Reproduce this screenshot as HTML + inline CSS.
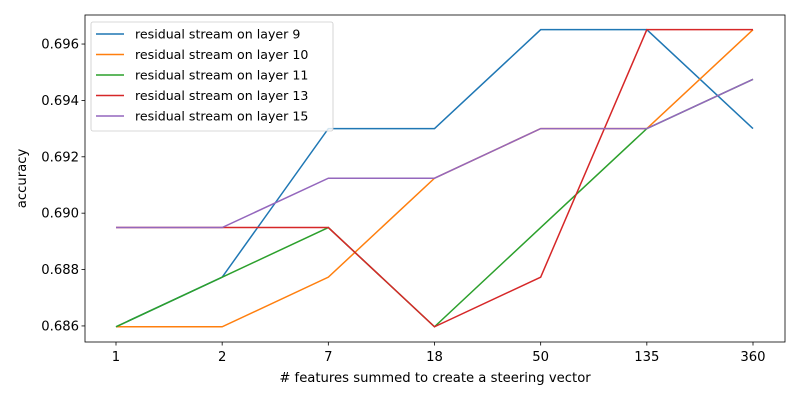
<!DOCTYPE html>
<html><head><meta charset="utf-8"><style>
body{margin:0;background:#fff}
svg{font-family:"DejaVu Sans","Liberation Sans",sans-serif}
</style></head><body>
<svg id="chart" width="800" height="400" viewBox="0 0 800 400" xmlns="http://www.w3.org/2000/svg"></svg>
<script>
const categories=["1","2","7","18","50","135","360"];
const yTicks=[0.686,0.688,0.690,0.692,0.694,0.696];
const seriesNames=["residual stream on layer 9","residual stream on layer 10","residual stream on layer 11","residual stream on layer 13","residual stream on layer 15"];
const layer9=[0.68597,0.68773,0.69300,0.69300,0.69651,0.69651,0.69300];
const layer10=[0.68597,0.68597,0.68773,0.69124,0.69300,0.69300,0.69651];
const layer11=[0.68597,0.68773,0.68949,0.68597,0.68949,0.69300,0.69475];
const layer13=[0.68949,0.68949,0.68949,0.68597,0.68773,0.69651,0.69651];
const layer15=[0.68949,0.68949,0.69124,0.69124,0.69300,0.69300,0.69475];
const seriesValues=[layer9,layer10,layer11,layer13,layer15];
const colors=["#1f77b4","#ff7f0e","#2ca02c","#d62728","#9467bd"];
const L=85,R=785,T=15,B=342,yMin=0.68543,yMax=0.69703;
const FS=13.2, LFS=12.6;
const ns="http://www.w3.org/2000/svg";
const svg=document.getElementById('chart');
function x(i){return 116+i*(753-116)/(categories.length-1);}
function y(v){return B-(v-yMin)/(yMax-yMin)*(B-T);}
function mk(t,a,p){const e=document.createElementNS(ns,t);for(const k in a)e.setAttribute(k,a[k]);(p||svg).appendChild(e);return e;}
const plot=mk('g',{});


seriesValues.forEach((s,si)=>{
  const pl=mk('polyline',{points:s.map((v,i)=>x(i)+','+y(v)).join(' '),fill:'none',stroke:colors[si],'stroke-width':1.5},plot);
  
  
});
const frame=mk('rect',{x:L,y:T,width:R-L,height:B-T,fill:'none',stroke:'#000','stroke-width':0.8});


categories.forEach((c,i)=>{
  mk('line',{x1:x(i),x2:x(i),y1:B,y2:B+3.5,stroke:'#000','stroke-width':0.8});
  const t=mk('text',{x:x(i),y:B+19,'text-anchor':'middle','font-size':FS,fill:'#000'});t.textContent=c;
  
  
});
yTicks.forEach(v=>{
  mk('line',{x1:L-3.5,x2:L,y1:y(v),y2:y(v),stroke:'#000','stroke-width':0.8});
  const t=mk('text',{x:L-6,y:y(v)+4.5,'text-anchor':'end','font-size':FS,fill:'#000'});t.textContent=v.toFixed(3);
  
  
});
const xt=mk('text',{x:(L+R)/2,y:382,'text-anchor':'middle','font-size':FS,fill:'#000'});xt.textContent='# features summed to create a steering vector';


const yt=mk('text',{x:26,y:(T+B)/2,'text-anchor':'middle','font-size':FS,fill:'#000',transform:'rotate(-90 26 '+((T+B)/2)+')'});yt.textContent='accuracy';


const lg=mk('g',{});


mk('rect',{x:91,y:22,width:242,height:109,rx:2,fill:'#fff','fill-opacity':0.8,stroke:'#ccc','stroke-width':0.8},lg);
seriesNames.forEach((n,i)=>{
  const yy=34+i*20.5;
  mk('line',{x1:96,x2:124,y1:yy,y2:yy,stroke:colors[i],'stroke-width':1.5},lg);
  const t=mk('text',{x:135,y:yy+4.5,'font-size':LFS,fill:'#000'},lg);t.textContent=n;
  
  
});
</script>
</body></html>
